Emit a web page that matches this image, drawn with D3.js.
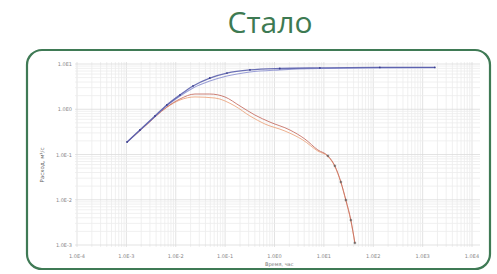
<!DOCTYPE html>
<html><head><meta charset="utf-8">
<script src="https://cdn.jsdelivr.net/npm/d3@7"></script>
<style>body{margin:0;background:#fff}svg{display:block}</style>
</head><body>
<script>
const title = "Стало";
const xTickValues = [1e-4,1e-3,1e-2,1e-1,1,10,100,1e3,1e4];
const xTickLabels = ["1.0E-4","1.0E-3","1.0E-2","1.0E-1","1.0E0","1.0E1","1.0E2","1.0E3","1.0E4"];
const yTickValues = [10,1,0.1,0.01,0.001];
const yTickLabels = ["1.0E1","1.0E0","1.0E-1","1.0E-2","1.0E-3"];
const xTitle = "Время, час";
const yTitle = "Расход, м³/с";

const blue1X = [1.03e-3,1.88e-3,3.8e-3,6.6e-3,0.0122,0.0224,0.049,0.109,0.318,1.28,8.3,136,1766];
const blue1Y = [0.189,0.348,0.71,1.24,2.07,3.27,4.9,6.3,7.4,7.95,8.2,8.4,8.4];
const blue2X = [1.03e-3,1.88e-3,3.8e-3,6.6e-3,0.0122,0.0224,0.049,0.109,0.318,1.28,8.3,136,1766];
const blue2Y = [0.185,0.34,0.69,1.2,1.95,2.95,4.2,5.43,6.65,7.4,7.95,8.2,8.3];
const red1X = [1.03e-3,2.38e-3,6.6e-3,0.0122,0.0245,0.049,0.099,0.2,0.40,0.81,2.05,4.12,7.56,12.1,16.7,22.1,27.9,35.2,42.5];
const red1Y = [0.189,0.426,1.12,1.69,2.17,2.17,1.87,1.18,0.746,0.52,0.348,0.22,0.126,0.093,0.056,0.0247,0.00986,0.00356,0.00111];
const red2X = [1.03e-3,2.38e-3,6.6e-3,0.0122,0.0245,0.0622,0.158,0.318,0.64,1.63,3.76,7.56,12.1,16.7,22.1,27.9,35.2,42.5];
const red2Y = [0.185,0.42,1.1,1.6,1.87,1.77,1.18,0.71,0.472,0.33,0.209,0.119,0.09,0.054,0.024,0.0095,0.0034,0.00108];

const W = 497, H = 274;
const svg = d3.select("body").append("svg").attr("width", W).attr("height", H);

svg.append("text").attr("x", 270).attr("y", 33).attr("text-anchor","middle")
  .attr("font-family","Open Sans, sans-serif").attr("font-size",30).attr("fill","#3d7a52").text(title);

svg.append("rect").attr("x",27).attr("y",50).attr("width",463).attr("height",219)
  .attr("rx",15).attr("fill","none").attr("stroke","#3f7a55").attr("stroke-width",2.2);

const x = d3.scaleLog().domain([1e-4,1e4]).range([77,472]);
const y = d3.scaleLog().domain([1e-3,10]).range([245,64]);

// grid
const g = svg.append("g");
const xMinor = [];
for (let e=-4;e<4;e++) for (let k=1;k<10;k++) xMinor.push(k*Math.pow(10,e));
xMinor.push(1e4);
const yMinor = [];
for (let e=-3;e<1;e++) for (let k=1;k<10;k++) yMinor.push(k*Math.pow(10,e));
yMinor.push(10);
g.selectAll(".gx").data(xMinor).join("line")
  .attr("x1",d=>x(d)).attr("x2",d=>x(d)).attr("y1",62).attr("y2",247)
  .attr("stroke",d=>xTickValues.includes(d)?"#dcdcdc":"#ececec").attr("stroke-width",0.8);
g.selectAll(".gy").data(yMinor).join("line")
  .attr("y1",d=>y(d)).attr("y2",d=>y(d)).attr("x1",75).attr("x2",480)
  .attr("stroke",d=>yTickValues.includes(d)?"#dcdcdc":"#ececec").attr("stroke-width",0.8);

// tick labels
svg.selectAll(".xl").data(xTickValues).join("text")
  .attr("x",d=>x(d)).attr("y",258).attr("text-anchor","middle")
  .attr("font-family","DejaVu Sans, sans-serif").attr("font-size",5).attr("fill","#888")
  .text((d,i)=>xTickLabels[i]);
svg.selectAll(".yl").data(yTickValues).join("text")
  .attr("x",72).attr("y",d=>y(d)+2).attr("text-anchor","end")
  .attr("font-family","DejaVu Sans, sans-serif").attr("font-size",5).attr("fill","#888")
  .text((d,i)=>yTickLabels[i]);
svg.append("text").attr("x",265).attr("y",266)
  .attr("font-family","DejaVu Sans, sans-serif").attr("font-size",5).attr("fill","#777").text(xTitle);
svg.append("text").attr("transform","translate(44,165) rotate(-90)").attr("text-anchor","middle")
  .attr("font-family","DejaVu Sans, sans-serif").attr("font-size",5.5).attr("fill","#666").text(yTitle);

const line = d3.line().x(d=>x(d[0])).y(d=>y(d[1])).curve(d3.curveMonotoneX);
function series(xs, ys, color, w){
  const pts = xs.map((v,i)=>[v,ys[i]]);
  svg.append("path").datum(pts).attr("d",line).attr("fill","none").attr("stroke",color).attr("stroke-width",w).attr("opacity",0.85);
  return pts;
}
series(red2X, red2Y, "#eba27a", 1);
const r1 = series(red1X, red1Y, "#c46a5e", 1);
series(blue2X, blue2Y, "#8a8fd0", 1.1);
const b1 = series(blue1X, blue1Y, "#5157a8", 1.3);

// markers along descent (black) and blue curve
const descent = red1X.map((v,i)=>[v,red1Y[i]]).filter(d=>d[0]>=10);
svg.selectAll(".mk").data(descent).join("path")
  .attr("transform",d=>`translate(${x(d[0])},${y(d[1])})`)
  .attr("d","M-1.3,0H1.3M0,-1.3V1.3").attr("stroke","#555").attr("stroke-width",0.8);
const blueMarks = blue1X.map((v,i)=>[v,blue1Y[i]]);
svg.selectAll(".bm").data(blueMarks).join("circle")
  .attr("cx",d=>x(d[0])).attr("cy",d=>y(d[1])).attr("r",0.9).attr("fill","#3a3f90");
</script>
</body></html>
